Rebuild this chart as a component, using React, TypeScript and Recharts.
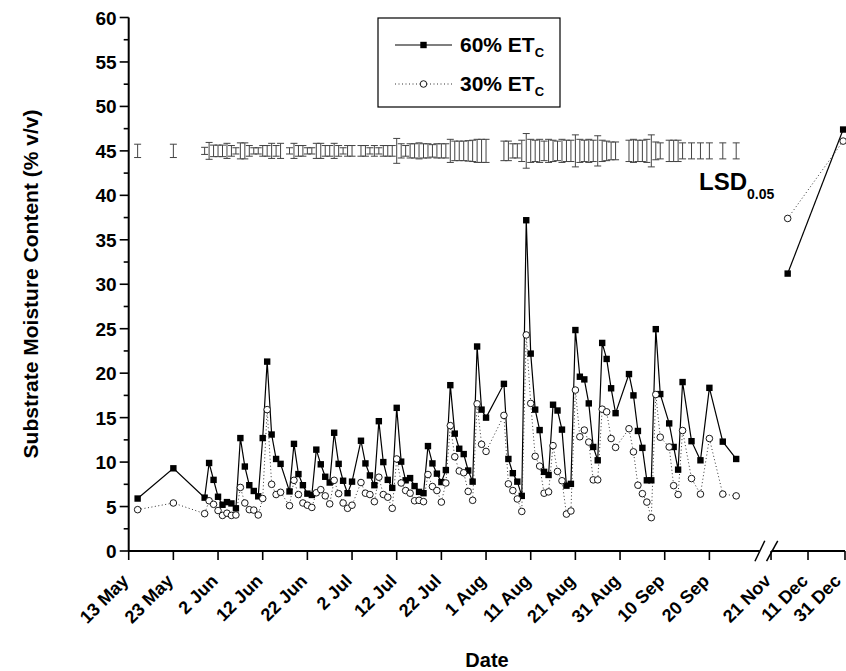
import { ComposedChart, Line, Scatter, ErrorBar, XAxis, YAxis, ReferenceLine } from 'recharts'

// sampling dates, counted in days after 13 May
const sampleDays = [
  2, 10, 17, 18, 19, 20, 21, 22, 23, 24, 25, 26, 27, 28, 29, 30, 31, 32, 33, 34,
  36, 37, 38, 39, 40, 41, 42, 43, 44, 45, 46, 47, 48, 49, 50, 52, 53, 54, 55, 56,
  57, 58, 59, 60, 61, 62, 63, 64, 65, 66, 67, 68, 69, 70, 71, 72, 73, 74, 75, 76,
  77, 78, 79, 80, 84, 85, 86, 87, 88, 89, 90, 91, 92, 93, 94, 95, 96, 97, 98, 99,
  100, 101, 102, 103, 104, 105, 106, 107, 108, 109, 112, 113, 114, 115, 116, 117, 118, 119, 121, 122,
  123, 124, 126, 128, 130, 133, 136,
]

const et60 = [
  5.9, 9.3, 6.0, 9.9, 8.0, 6.1, 5.2, 5.5, 5.35, 4.8, 12.7, 9.5, 7.4, 6.75, 6.15, 12.7, 21.3, 13.1, 10.35, 9.8,
  6.7, 12.05, 8.65, 7.4, 6.45, 6.3, 11.4, 9.75, 8.35, 7.7, 13.3, 9.8, 7.9, 6.5, 7.8, 12.4, 9.85, 8.5, 7.4, 14.6,
  10.0, 8.0, 7.1, 16.1, 10.05, 7.95, 8.2, 7.3, 6.65, 6.5, 11.8, 9.85, 8.7, 7.75, 9.1, 18.65, 13.2, 11.5, 10.9, 9.05,
  7.8, 23.0, 15.9, 15.0, 18.8, 10.35, 8.75, 7.8, 6.2, 37.2, 22.2, 15.9, 13.6, 8.9, 8.55, 16.45, 15.8, 13.65, 7.35, 7.55,
  24.85, 19.6, 19.3, 16.6, 11.7, 10.2, 23.4, 21.6, 18.3, 15.5, 19.9, 17.5, 13.5, 11.6, 7.95, 7.95, 24.95, 17.65, 14.35, 11.7,
  9.15, 19.0, 12.35, 10.2, 18.35, 12.3, 10.35,
]

const et30 = [
  4.65, 5.4, 4.2, 5.65, 5.25, 4.55, 4.0, 4.25, 4.0, 4.05, 7.15, 5.4, 4.65, 4.6, 4.05, 5.9, 15.9, 7.5, 6.35, 6.6,
  5.1, 7.95, 6.35, 5.4, 5.15, 4.9, 6.55, 6.9, 6.2, 5.3, 7.95, 6.45, 5.4, 4.8, 5.15, 7.7, 6.5, 6.35, 5.55, 8.3,
  6.35, 6.05, 4.8, 10.35, 7.65, 6.8, 6.5, 5.65, 5.7, 5.55, 8.6, 7.25, 6.8, 5.5, 7.65, 14.1, 10.6, 9.0, 8.8, 6.7,
  5.7, 16.55, 12.0, 11.2, 15.25, 7.55, 6.8, 5.85, 4.45, 24.3, 16.6, 10.65, 9.55, 6.5, 6.65, 11.85, 8.95, 7.9, 4.15, 4.5,
  18.1, 12.85, 13.6, 12.25, 8.0, 8.0, 15.95, 15.65, 12.65, 11.65, 13.75, 11.15, 7.4, 6.45, 5.5, 3.75, 17.6, 12.8, 11.7, 7.35,
  6.35, 13.55, 8.15, 6.4, 12.65, 6.4, 6.2,
]

// half width of the LSD(0.05) bar for each sampling date
const lsd = [
  0.75, 0.75, 0.4, 0.95, 0.65, 0.65, 0.65, 0.85, 0.6, 0.35, 0.9, 0.9, 0.6, 0.35, 0.35, 0.6, 0.6, 0.85, 0.6, 0.85,
  0.35, 0.85, 0.6, 0.6, 0.35, 0.35, 0.85, 0.85, 0.6, 0.6, 0.85, 0.6, 0.35, 0.6, 0.6, 0.6, 0.6, 0.35, 0.6, 0.35,
  0.6, 0.6, 0.6, 1.4, 0.8, 0.6, 0.8, 0.8, 0.9, 0.8, 0.8, 0.7, 0.8, 0.8, 0.8, 1.3, 1.1, 1.1, 1.1, 1.15,
  1.2, 1.3, 1.3, 1.3, 1.1, 1.1, 0.8, 0.8, 1.2, 1.95, 1.3, 1.2, 1.3, 1.1, 1.3, 1.2, 1.1, 1.3, 1.2, 1.2,
  1.8, 1.3, 1.2, 1.3, 1.2, 1.7, 1.2, 1.1, 1.0, 1.0, 1.2, 1.3, 1.2, 1.2, 1.3, 1.8, 1.0, 0.9, 1.2, 1.2,
  1.2, 0.9, 0.9, 0.9, 0.9, 0.9, 0.9,
]

// winter samples, after the axis break
const lateDays = [201, 231]
const late60 = [31.2, 47.4]
const late30 = [37.4, 46.1]

const tickDays = [0, 10, 20, 30, 40, 50, 60, 70, 80, 90, 100, 110, 120, 130, 192, 212, 232]
const tickLabels = [
  '13 May', '23 May', '2 Jun', '12 Jun', '22 Jun', '2 Jul', '12 Jul', '22 Jul', '1 Aug',
  '11 Aug', '21 Aug', '31 Aug', '10 Sep', '20 Sep', '21 Nov', '11 Dec', '31 Dec',
]
const yMajor = [0, 5, 10, 15, 20, 25, 30, 35, 40, 45, 50, 55, 60]
const yMinor = [2.5, 7.5, 12.5, 17.5, 22.5, 27.5, 32.5, 37.5, 42.5, 47.5, 52.5, 57.5]
const LSD_LEVEL = 45

// broken x axis: after the break the days are squeezed
const BREAK_DAY = 192
const BREAK_POS = 143.8
const SQUEEZE = 0.414
const pos = (d: number) => (d < 150 ? d : BREAK_POS + (d - BREAK_DAY) * SQUEEZE)
const X_MAX = pos(232)

const FONT = "'Liberation Sans', Arial, sans-serif"
const W = 846
const H = 671

const rows60 = sampleDays.map((d, i) => ({ x: pos(d), v: et60[i] }))
const rows30 = sampleDays.map((d, i) => ({ x: pos(d), v: et30[i] }))
const lateRows60 = lateDays.map((d, i) => ({ x: pos(d), v: late60[i] }))
const lateRows30 = lateDays.map((d, i) => ({ x: pos(d), v: late30[i] }))
const lsdRows = sampleDays.map((d, i) => ({ x: pos(d), v: LSD_LEVEL, err: lsd[i] }))

const tickPos = tickDays.map(pos)
const yTicks = [...yMajor, ...yMinor].sort((a, b) => a - b)

const XTick = ({ x, y, payload }: any) => {
  let idx = 0
  tickPos.forEach((p, i) => {
    if (Math.abs(p - payload.value) < Math.abs(tickPos[idx] - payload.value)) idx = i
  })
  // last label would run off the page edge
  const dx = idx === tickLabels.length - 1 ? -3 : 1
  return (
    <g>
      <line x1={x} x2={x} y1={y} y2={y + 9} stroke="#000" strokeWidth={1.6} />
      <text
        transform={`translate(${x + dx},${y + 31}) rotate(-45)`}
        textAnchor="end"
        fontFamily={FONT}
        fontWeight="bold"
        fontSize={18}
        fill="#000"
      >
        {tickLabels[idx]}
      </text>
    </g>
  )
}

const YTick = ({ x, y, payload }: any) => {
  const major = payload.value % 5 === 0
  return (
    <g>
      <line x1={x - (major ? 9 : 5)} x2={x} y1={y} y2={y} stroke="#000" strokeWidth={1.6} />
      {major && (
        <text x={x - 12} y={y + 7} textAnchor="end" fontFamily={FONT} fontWeight="bold" fontSize={19} fill="#000">
          {payload.value}
        </text>
      )}
    </g>
  )
}

const squareDot = (p: any) => (
  <rect key={`q${p.index}`} x={p.cx - 3.2} y={p.cy - 3.2} width={6.4} height={6.4} fill="#000" />
)
const circleDot = (p: any) => (
  <circle key={`c${p.index}`} cx={p.cx} cy={p.cy} r={3.3} fill="#fff" stroke="#000" strokeWidth={0.9} />
)
const noShape = () => <g />

export default function App() {
  // taken out of the flow so the body margin adds no scrollbar
  return (
    <div style={{ position: 'absolute', left: 0, top: 0, width: W, height: H, overflow: 'hidden', fontFamily: FONT }}>
      <ComposedChart width={W} height={H} margin={{ top: 17.5, right: 1, left: 0, bottom: 0 }}>
        <XAxis
          type="number"
          dataKey="x"
          domain={[0, X_MAX]}
          ticks={tickPos}
          interval={0}
          axisLine={false}
          tickLine={false}
          tickSize={0}
          tickMargin={0}
          height={120}
          tick={<XTick />}
        />
        <YAxis
          type="number"
          dataKey="v"
          domain={[0, 60]}
          ticks={yTicks}
          interval={0}
          axisLine={{ stroke: '#000', strokeWidth: 2 }}
          tickLine={false}
          tickSize={0}
          tickMargin={0}
          width={128.7}
          tick={<YTick />}
        />
        <ReferenceLine segment={[{ x: 0, y: 0 }, { x: 141.3, y: 0 }]} stroke="#000" strokeWidth={2} ifOverflow="visible" />
        <ReferenceLine segment={[{ x: 143.9, y: 0 }, { x: X_MAX, y: 0 }]} stroke="#000" strokeWidth={2} ifOverflow="visible" />
        <ReferenceLine segment={[{ x: 140.2, y: -1.15 }, { x: 142.4, y: 1.15 }]} stroke="#000" strokeWidth={1.5} ifOverflow="visible" />
        <ReferenceLine segment={[{ x: 142.8, y: -1.15 }, { x: 145.3, y: 1.15 }]} stroke="#000" strokeWidth={1.5} ifOverflow="visible" />
        <Scatter data={lsdRows} dataKey="v" shape={noShape} isAnimationActive={false}>
          <ErrorBar dataKey="err" direction="y" width={3.5} stroke="#444" strokeWidth={1} />
        </Scatter>
        <Line data={rows60} dataKey="v" type="linear" stroke="#000" strokeWidth={1.2} dot={squareDot} activeDot={false} isAnimationActive={false} />
        <Line data={lateRows60} dataKey="v" type="linear" stroke="#000" strokeWidth={1.2} dot={squareDot} activeDot={false} isAnimationActive={false} />
        <Line data={rows30} dataKey="v" type="linear" stroke="#333" strokeWidth={1} strokeDasharray="1 2.5" dot={circleDot} activeDot={false} isAnimationActive={false} />
        <Line data={lateRows30} dataKey="v" type="linear" stroke="#333" strokeWidth={1} strokeDasharray="1 2.5" dot={circleDot} activeDot={false} isAnimationActive={false} />
      </ComposedChart>
      <svg width={W} height={H} style={{ position: 'absolute', left: 0, top: 0, pointerEvents: 'none' }}>
        <g fontFamily={FONT} fontWeight="bold" fill="#000">
          <rect x={378} y={18} width={182} height={89} fill="#fff" stroke="#000" strokeWidth={1.2} />
          <line x1={395} x2={452} y1={45} y2={45} stroke="#000" strokeWidth={1.2} />
          <rect x={420.3} y={41.8} width={6.4} height={6.4} fill="#000" />
          <text x={460} y={52} fontSize={21}>
            60% ET<tspan fontSize={13} dy={5}>C</tspan>
          </text>
          <line x1={395} x2={452} y1={84} y2={84} stroke="#333" strokeWidth={1} strokeDasharray="1 2.5" />
          <circle cx={423.5} cy={84} r={3.3} fill="#fff" stroke="#000" strokeWidth={0.9} />
          <text x={460} y={91} fontSize={21}>
            30% ET<tspan fontSize={13} dy={5}>C</tspan>
          </text>
          <text x={699} y={190} fontSize={24}>
            LSD<tspan fontSize={14} dy={9}>0.05</tspan>
          </text>
          <text transform="translate(38,284) rotate(-90)" textAnchor="middle" fontSize={21}>
            Substrate Moisture Content (% v/v)
          </text>
          <text x={487} y={667} textAnchor="middle" fontSize={20}>
            Date
          </text>
        </g>
      </svg>
    </div>
  )
}
